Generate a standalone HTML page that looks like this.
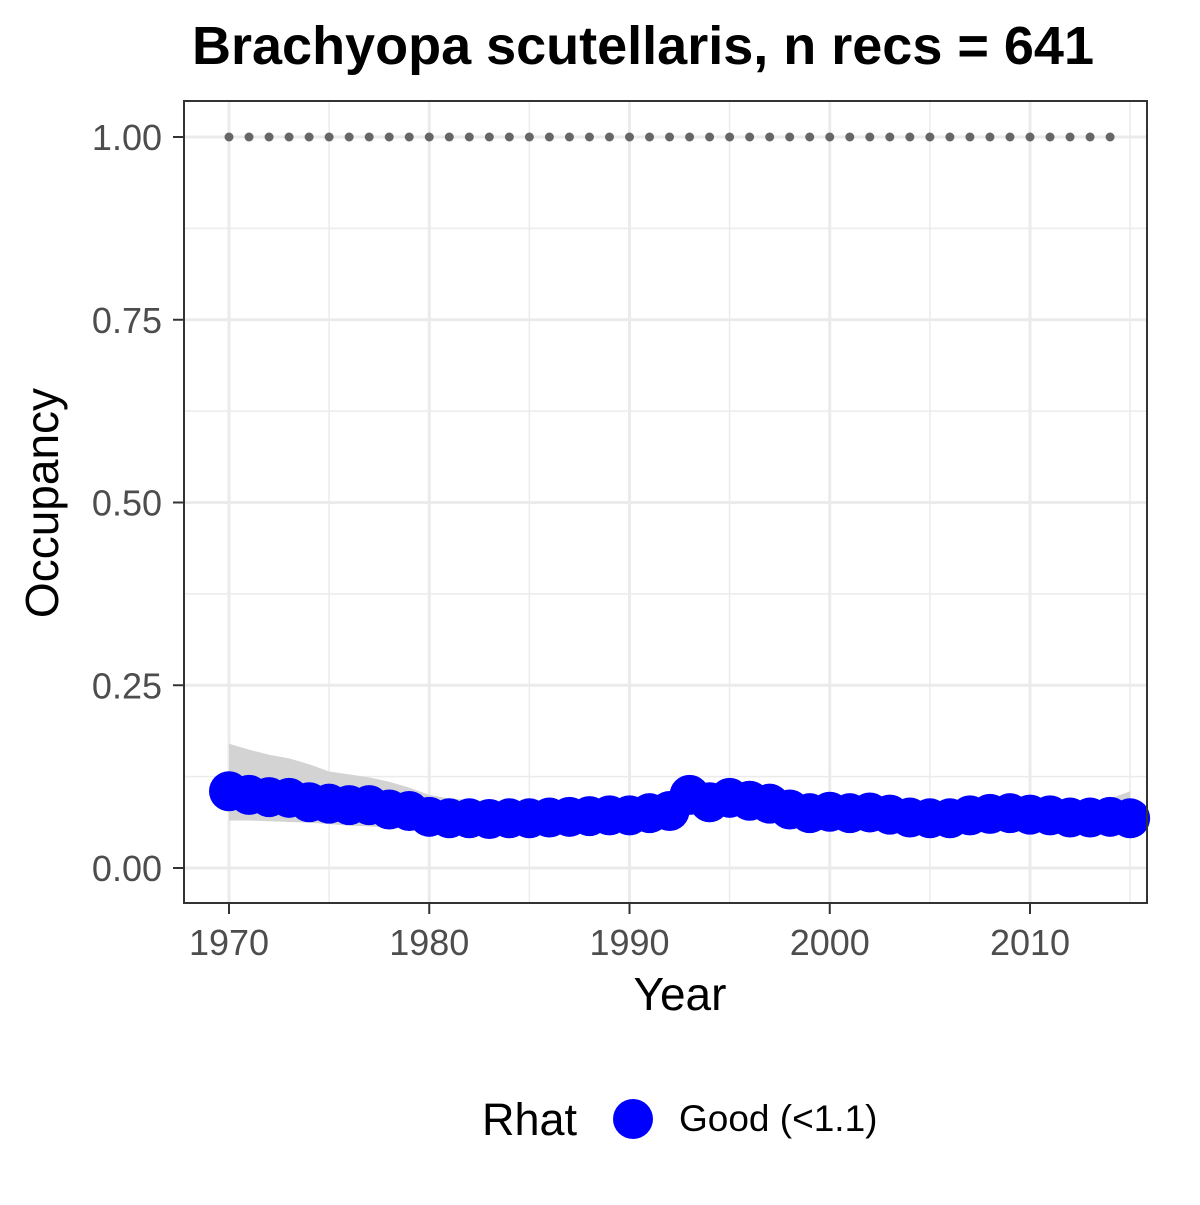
<!DOCTYPE html>
<html><head><meta charset="utf-8"><style>body{margin:0;background:#fff}svg text{font-family:"Liberation Sans",Arial,sans-serif}</style></head>
<body>
<svg id="chart" width="1200" height="1200" xmlns="http://www.w3.org/2000/svg">
<rect width="1200" height="1200" fill="#fff"/>
<text x="643" y="64" text-anchor="middle" font-size="54" font-weight="bold">Brachyopa scutellaris, n recs = 641</text>
<g id="grid"></g><g id="ci"></g><g id="dots"></g><g id="pts"></g>
<rect x="184" y="101" width="963" height="802" fill="none" stroke="#333" stroke-width="2"/>
<g id="axes"></g>
<text x="680" y="1010" text-anchor="middle" font-size="46">Year</text>
<text transform="translate(58,503) rotate(-90)" text-anchor="middle" font-size="46">Occupancy</text>
<g>
<text x="482" y="1135" font-size="45">Rhat</text>
<circle cx="633" cy="1119" r="20" fill="#0000ff"/>
<text x="679" y="1131" font-size="37">Good (&lt;1.1)</text>
</g>
</svg>
<script>
const years=[];for(let y=1970;y<=2015;y++)years.push(y);
const occ=[0.105,0.100,0.097,0.096,0.090,0.088,0.086,0.086,0.080,0.078,0.070,0.068,0.068,0.067,0.068,0.068,0.069,0.070,0.071,0.072,0.072,0.075,0.078,0.100,0.090,0.096,0.092,0.088,0.080,0.075,0.077,0.075,0.076,0.073,0.069,0.068,0.068,0.072,0.074,0.075,0.073,0.072,0.069,0.069,0.070,0.068];
const upper=[0.170,0.162,0.155,0.150,0.142,0.132,0.128,0.124,0.118,0.110,0.100,0.095,0.093,0.091,0.090,0.090,0.090,0.091,0.091,0.092,0.092,0.094,0.097,0.125,0.115,0.120,0.115,0.108,0.100,0.095,0.094,0.093,0.093,0.091,0.089,0.088,0.088,0.090,0.091,0.092,0.091,0.090,0.089,0.090,0.095,0.105];
const lower=[0.065,0.065,0.064,0.063,0.062,0.060,0.058,0.057,0.055,0.053,0.050,0.049,0.049,0.049,0.049,0.050,0.050,0.051,0.052,0.053,0.053,0.055,0.058,0.075,0.068,0.073,0.070,0.066,0.060,0.056,0.057,0.055,0.056,0.054,0.051,0.050,0.050,0.053,0.055,0.056,0.054,0.053,0.051,0.051,0.051,0.050];
const rhatLine=1.0;
const xTicks=[1970,1980,1990,2000,2010];
const yTicks=[0,0.25,0.5,0.75,1.0];
const yTickLabels=["0.00","0.25","0.50","0.75","1.00"];
const NS="http://www.w3.org/2000/svg";
const X=v=>229+(v-1970)*20.025;
const Y=v=>868-v*731;
function mk(t,a,p){const e=document.createElementNS(NS,t);for(const k in a)e.setAttribute(k,a[k]);document.getElementById(p).appendChild(e);return e;}
for(const v of [1975,1985,1995,2005,2015]){const e=mk('line',{x1:X(v),x2:X(v),y1:101,y2:903,stroke:'#ebebeb','stroke-width':1.5},'grid');

}
for(const v of [0.125,0.375,0.625,0.875]){const e=mk('line',{x1:184,x2:1147,y1:Y(v),y2:Y(v),stroke:'#ebebeb','stroke-width':1.5},'grid');

}
xTicks.forEach(v=>{const e=mk('line',{x1:X(v),x2:X(v),y1:101,y2:903,stroke:'#ebebeb','stroke-width':3},'grid');

});
yTicks.forEach(v=>{const e=mk('line',{x1:184,x2:1147,y1:Y(v),y2:Y(v),stroke:'#ebebeb','stroke-width':3},'grid');

});
let d='M'+years.map((y,i)=>X(y)+','+Y(upper[i])).join('L')+'L'+years.slice().reverse().map((y,j)=>X(y)+','+Y(lower[years.length-1-j])).join('L')+'Z';
const rib=mk('path',{d:d,fill:'#d3d3d3'},'ci');


for(let y=1970;y<=2014;y++){const c=mk('circle',{cx:X(y),cy:Y(rhatLine),r:4.5,fill:'#666'},'dots');

}
years.forEach((y,i)=>{const c=mk('circle',{cx:X(y),cy:Y(occ[i]),r:20,fill:'#0000ff'},'pts');

});
xTicks.forEach(v=>{const l=mk('line',{x1:X(v),x2:X(v),y1:903,y2:914,stroke:'#333','stroke-width':2},'axes');


const t=mk('text',{x:X(v),y:955,'text-anchor':'middle','font-size':36,fill:'#4d4d4d'},'axes');t.textContent=v;

});
yTicks.forEach((v,i)=>{const l=mk('line',{x1:173,x2:184,y1:Y(v),y2:Y(v),stroke:'#333','stroke-width':2},'axes');


const t=mk('text',{x:162,y:Y(v)+13,'text-anchor':'end','font-size':36,fill:'#4d4d4d'},'axes');t.textContent=yTickLabels[i];

});
</script>
</body></html>
